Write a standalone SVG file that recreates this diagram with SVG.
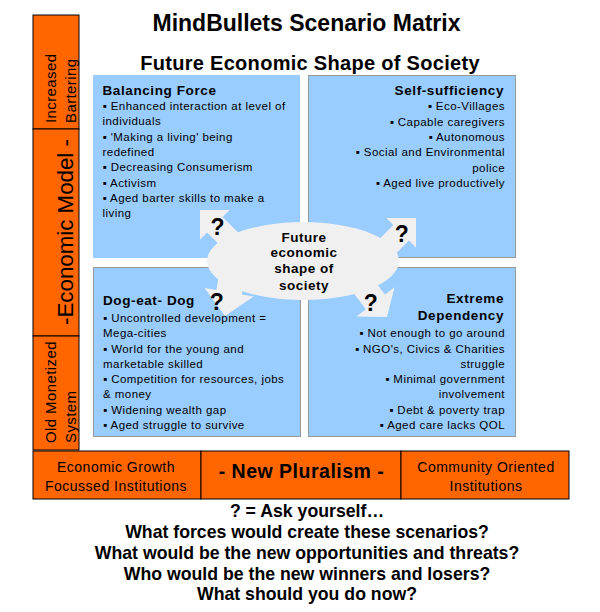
<svg xmlns="http://www.w3.org/2000/svg" width="600" height="612" viewBox="0 0 600 612">
<style>
text{font-family:"Liberation Sans","DejaVu Sans",Arial,sans-serif;fill:#000}
.org{fill:#FF6600;stroke:#000;stroke-width:1}
.q{fill:#99CCFF}
.qb{fill:#99CCFF;stroke:#999999;stroke-width:1}
.bul{font-size:11.5px;letter-spacing:0.45px}
.qh{font-size:13.5px;font-weight:bold;letter-spacing:0.6px}
.side{font-size:15px;letter-spacing:0.4px}
.bot{font-size:14px;letter-spacing:0.5px}
.ask{font-size:17.7px;font-weight:bold}
.qm{font-size:23px;font-weight:bold;text-anchor:middle}
.ell{font-size:13.5px;font-weight:bold;letter-spacing:0.5px;text-anchor:middle}
.sh{fill:#F0F0F0}
.r{text-anchor:end}
.m{text-anchor:middle}
</style>
<rect width="600" height="612" fill="#fff"/>
<g id="title">
<text x="306.5" y="31" class="m" font-size="23" font-weight="bold">MindBullets Scenario Matrix</text>
<text x="310" y="70" class="m" font-size="20" font-weight="bold" letter-spacing="0.3">Future Economic Shape of Society</text>
</g>
<g id="axis-left">
<rect class="org" x="33" y="15" width="46" height="114"/>
<rect class="org" x="33" y="129" width="46" height="207"/>
<rect class="org" x="33" y="336" width="46" height="114"/>
<text class="side" transform="translate(56,123) rotate(-90)">Increased</text>
<text class="side" transform="translate(75.5,123) rotate(-90)">Bartering</text>
<text transform="translate(72.5,232) rotate(-90)" class="m" font-size="22.3">-Economic Model -</text>
<text class="side" transform="translate(56,443) rotate(-90)">Old Monetized</text>
<text class="side" transform="translate(75.5,443) rotate(-90)">System</text>
</g>
<g id="axis-bottom">
<rect class="org" x="33" y="451" width="168" height="48"/>
<rect class="org" x="201" y="451" width="200" height="48"/>
<rect class="org" x="401" y="451" width="168" height="48"/>
<text class="bot m" x="116" y="472">Economic Growth</text>
<text class="bot m" x="116" y="490.5">Focussed Institutions</text>
<text class="m" x="301.5" y="477.5" font-size="19.5" font-weight="bold" letter-spacing="0.5">- New Pluralism -</text>
<text class="bot m" x="486" y="472">Community Oriented</text>
<text class="bot m" x="486" y="490.5">Institutions</text>
</g>
<g id="q-balancing">
<rect class="q" x="93" y="75" width="207" height="183"/>
<text class="qh" x="102.5" y="95">Balancing Force</text>
<text class="bul" x="102.5" y="109.5">▪ Enhanced interaction at level of</text>
<text class="bul" x="102.5" y="125">individuals</text>
<text class="bul" x="102.5" y="140.5">▪ 'Making a living' being</text>
<text class="bul" x="102.5" y="155.5">redefined</text>
<text class="bul" x="102.5" y="171">▪ Decreasing Consumerism</text>
<text class="bul" x="102.5" y="186.5">▪ Activism</text>
<text class="bul" x="102.5" y="201.5">▪ Aged barter skills to make a</text>
<text class="bul" x="102.5" y="216.5">living</text>
</g>
<g id="q-self">
<rect class="qb" x="308.5" y="75.5" width="207" height="182"/>
<text class="qh r" x="504" y="95">Self-sufficiency</text>
<text class="bul r" x="505" y="110">▪ Eco-Villages</text>
<text class="bul r" x="505" y="125.5">▪ Capable caregivers</text>
<text class="bul r" x="505" y="141">▪ Autonomous</text>
<text class="bul r" x="505" y="156">▪ Social and Environmental</text>
<text class="bul r" x="505" y="171.5">police</text>
<text class="bul r" x="505" y="187">▪ Aged live productively</text>
</g>
<g id="q-dog">
<rect class="qb" x="93.5" y="267.5" width="207" height="169"/>
<text class="qh" x="103" y="305">Dog-eat- Dog</text>
<text class="bul" x="103" y="322">▪ Uncontrolled development =</text>
<text class="bul" x="103" y="337">Mega-cities</text>
<text class="bul" x="103" y="352.5">▪ World for the young and</text>
<text class="bul" x="103" y="367.5">marketable skilled</text>
<text class="bul" x="103" y="383">▪ Competition for resources, jobs</text>
<text class="bul" x="103" y="398">&amp; money</text>
<text class="bul" x="103" y="413.5">▪ Widening wealth gap</text>
<text class="bul" x="103" y="428.5">▪ Aged struggle to survive</text>
</g>
<g id="q-extreme">
<rect class="qb" x="308.5" y="267.5" width="207" height="169"/>
<text class="qh r" x="504" y="303">Extreme</text>
<text class="qh r" x="504" y="320">Dependency</text>
<text class="bul r" x="505" y="337">▪ Not enough to go around</text>
<text class="bul r" x="505" y="353">▪ NGO's, Civics &amp; Charities</text>
<text class="bul r" x="505" y="367.5">struggle</text>
<text class="bul r" x="505" y="383">▪ Minimal government</text>
<text class="bul r" x="505" y="398">involvement</text>
<text class="bul r" x="505" y="413.5">▪ Debt &amp; poverty trap</text>
<text class="bul r" x="505" y="428.5">▪ Aged care lacks QOL</text>
</g>
<g id="connectors">
<polygon class="sh" points="200,210 229.7,210 222.6,217.1 247.4,241.8 231.8,257.4 207.1,232.6 200,239.7"/>
<polygon class="sh" points="416,218 416,247.7 408.9,240.6 384.2,265.4 368.6,249.8 393.4,225.1 386.3,218"/>
<polygon class="sh" points="387,317 356.4,316.5 365.9,309.2 344.6,281.4 363.6,266.8 385,294.6 394.5,287.3"/>
<polygon class="sh" points="225,316 204.5,288.1 216.3,290.1 222.5,254.7 248.1,259.1 241.9,294.6 253.7,296.6"/>
</g>
<g id="center">
<ellipse class="sh" cx="303" cy="261" rx="96" ry="39"/>
<text class="ell" x="304" y="241.5">Future</text>
<text class="ell" x="304" y="257.3">economic</text>
<text class="ell" x="304" y="273.3">shape of</text>
<text class="ell" x="304" y="290">society</text>
<text class="qm" x="217.5" y="234.5">?</text>
<text class="qm" x="401.7" y="241.7">?</text>
<text class="qm" x="216.7" y="309.5">?</text>
<text class="qm" x="370.8" y="311">?</text>
</g>
<g id="questions">
<text class="ask m" x="307" y="517">? = Ask yourself…</text>
<text class="ask m" x="307" y="538">What forces would create these scenarios?</text>
<text class="ask m" x="307" y="559">What would be the new opportunities and threats?</text>
<text class="ask m" x="307" y="579.5">Who would be the new winners and losers?</text>
<text class="ask m" x="307" y="600">What should you do now?</text>
</g>
</svg>
